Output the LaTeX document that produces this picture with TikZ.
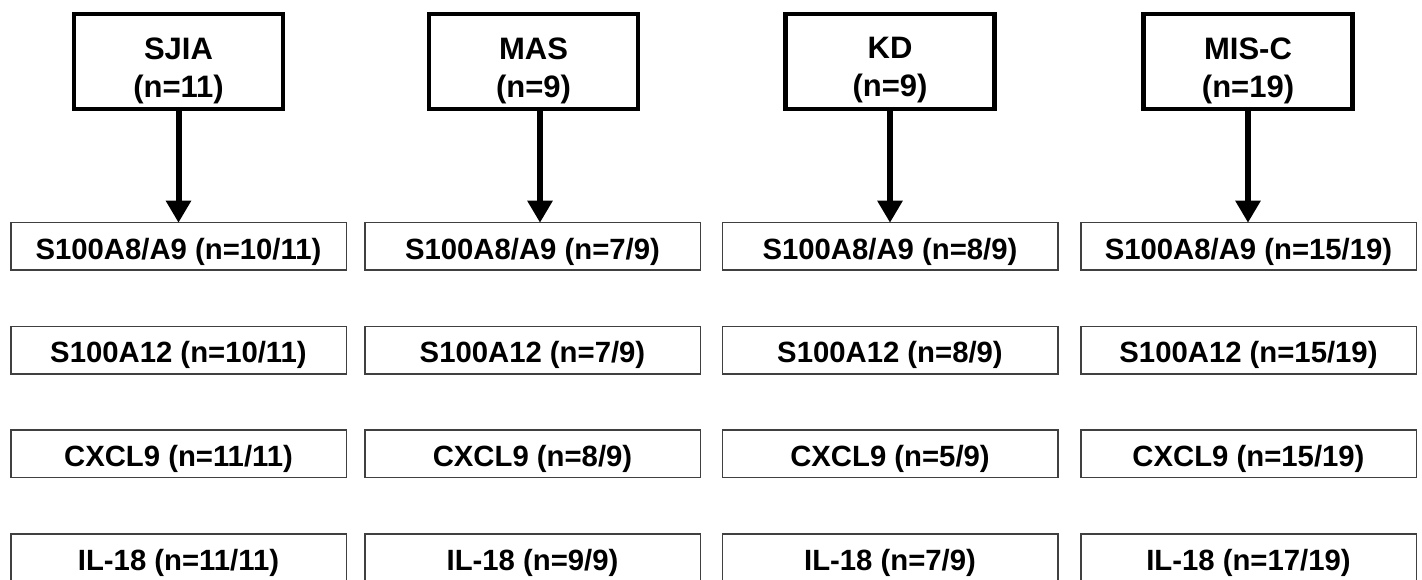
\documentclass[tikz,border=0pt]{standalone}
\usepackage{fontspec}
\setmainfont{Liberation Sans}
\usetikzlibrary{arrows.meta}
\begin{document}
\begin{tikzpicture}[x=1pt,y=-1pt,
  topbox/.style={draw=black,line width=4.3pt,minimum width=209pt,minimum height=94.7pt,inner sep=0pt,outer sep=0pt},
  toptext/.style={align=center,inner sep=0pt,font=\fontsize{31}{38}\selectfont\bfseries},
  resbox/.style={draw=black!75,line width=1.5pt,minimum width=335.5pt,minimum height=47.5pt,inner sep=0pt,outer sep=0pt,
    text height=25pt,text depth=0pt,font=\fontsize{29.3}{34}\selectfont\bfseries},
  arr/.style={line width=6pt,-{Triangle[width=24pt,length=22pt]}}]
\useasboundingbox (0,0) rectangle (1422,580);

% disease groups
\node[topbox] (sjia) at (178.5,61.5) {};
\node[topbox] (mas)  at (533.5,61.5) {};
\node[topbox] (kd)   at (890,61.5) {};
\node[topbox] (misc) at (1248,61.5) {};
\node[toptext] (sjiat) at ([yshift=-9pt]sjia.center) {SJIA\\(n=11)};
\node[toptext] (mast)  at ([yshift=-9pt]mas.center) {MAS\\(n=9)};
\node[toptext] (kdt)   at ([yshift=-9pt]kd.center) {KD\\(n=9)};
\node[toptext] (misct) at ([yshift=-9pt]misc.center) {MIS-C\\(n=19)};

% biomarker counts, one column per group
\node[resbox] (sjiaa) at (178.5,246.5) {S100A8/A9 (n=10/11)};
\node[resbox] (sjiab) at (178.5,350)   {S100A12 (n=10/11)};
\node[resbox] (sjiac) at (178.5,453.5) {CXCL9 (n=11/11)};
\node[resbox] (sjiad) at (178.5,557.5) {IL-18 (n=11/11)};

\node[resbox] (masa) at (532.5,246.5) {S100A8/A9 (n=7/9)};
\node[resbox] (masb) at (532.5,350)   {S100A12 (n=7/9)};
\node[resbox] (masc) at (532.5,453.5) {CXCL9 (n=8/9)};
\node[resbox] (masd) at (532.5,557.5) {IL-18 (n=9/9)};

\node[resbox] (kda) at (890,246.5) {S100A8/A9 (n=8/9)};
\node[resbox] (kdb) at (890,350)   {S100A12 (n=8/9)};
\node[resbox] (kdc) at (890,453.5) {CXCL9 (n=5/9)};
\node[resbox] (kdd) at (890,557.5) {IL-18 (n=7/9)};

\node[resbox] (misca) at (1248.5,246.5) {S100A8/A9 (n=15/19)};
\node[resbox] (miscb) at (1248.5,350)   {S100A12 (n=15/19)};
\node[resbox] (miscc) at (1248.5,453.5) {CXCL9 (n=15/19)};
\node[resbox] (miscd) at (1248.5,557.5) {IL-18 (n=17/19)};

% arrows
\draw[arr] (sjia.south) -- (sjia.south |- sjiaa.north);
\draw[arr] ([xshift=6.5pt]mas.south) -- ([xshift=6.5pt]mas.south |- masa.north);
\draw[arr] (kd.south) -- (kd.south |- kda.north);
\draw[arr] (misc.south) -- (misc.south |- misca.north);
\end{tikzpicture}
\end{document}
